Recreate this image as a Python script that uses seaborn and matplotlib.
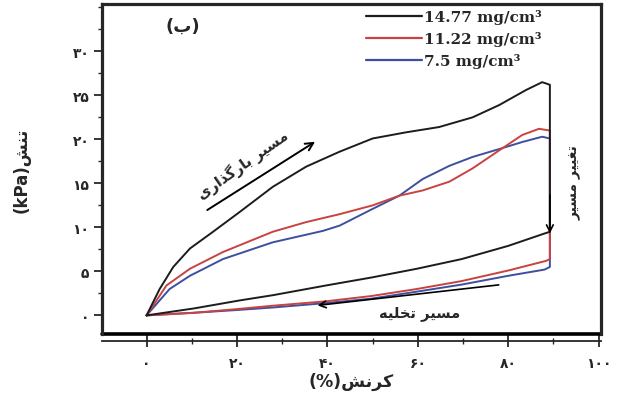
import numpy as np
import pandas as pd
import matplotlib
matplotlib.use("Agg")
import matplotlib.pyplot as plt
import seaborn as sns
from matplotlib.ticker import MultipleLocator
from matplotlib.lines import Line2D

# Series: loading path, vertical drop at max strain, unloading path
densities = ["14.77 mg/cm³", "11.22 mg/cm³", "7.5 mg/cm³"]
colors = ["#1c1c1c", "#c94242", "#3e4f9e"]

black_x = [0, 2.9, 5.9, 9.6, 14.7, 20.6, 27.9, 35.3, 42.7, 50.0, 57.4, 64.7, 72.1, 78.0, 83.9, 87.5, 89.2,
           89.2, 88.0, 80.0, 69.7, 59.8, 49.7, 39.7, 28.0, 20.6, 10.6, 0]
black_y = [0, 3.0, 5.5, 7.6, 9.5, 11.75, 14.6, 16.9, 18.6, 20.1, 20.8, 21.4, 22.5, 23.9, 25.6, 26.5, 26.2,
           9.5, 9.3, 7.9, 6.4, 5.3, 4.3, 3.4, 2.3, 1.7, 0.8, 0]

red_x = [0, 4.4, 9.6, 16.9, 27.9, 35.3, 42.7, 50.0, 55.9, 61.1, 67.0, 72.1, 78.0, 83.1, 86.8, 89.2,
         89.2, 88.4, 80.0, 69.7, 59.8, 49.7, 39.7, 28.0, 19.7, 10.6, 0]
red_y = [0, 3.4, 5.3, 7.2, 9.5, 10.6, 11.5, 12.5, 13.6, 14.2, 15.2, 16.7, 18.75, 20.5, 21.2, 21.0,
         6.4, 6.2, 5.1, 3.9, 3.0, 2.2, 1.6, 1.1, 0.7, 0.3, 0]

blue_x = [0, 5.1, 9.6, 16.9, 27.9, 39.0, 42.7, 50.0, 55.9, 61.1, 67.0, 72.1, 78.0, 83.1, 87.5, 89.2,
          89.2, 88.0, 80.0, 69.7, 59.8, 49.7, 39.7, 28.0, 19.7, 10.6, 0]
blue_y = [0, 3.0, 4.5, 6.4, 8.3, 9.6, 10.2, 12.1, 13.6, 15.5, 17.0, 18.0, 18.9, 19.7, 20.3, 20.1,
          5.5, 5.2, 4.5, 3.5, 2.7, 1.9, 1.4, 0.9, 0.6, 0.3, 0]

x_ticks = [0, 20, 40, 60, 80, 100]
x_labels = ["۰", "۲۰", "۴۰", "۶۰", "۸۰", "۱۰۰"]
y_ticks = [0, 5, 10, 15, 20, 25, 30]
y_labels = ["۰", "۵", "۱۰", "۱۵", "۲۰", "۲۵", "۳۰"]

# matplotlib has no Arabic shaping: pick presentation forms and reverse to visual order
FORMS = {
    "ا": "\uFE8D\uFE8E", "ب": "\uFE8F\uFE90\uFE91\uFE92", "ت": "\uFE95\uFE96\uFE97\uFE98",
    "خ": "\uFEA5\uFEA6\uFEA7\uFEA8", "ذ": "\uFEAB\uFEAC", "ر": "\uFEAD\uFEAE",
    "س": "\uFEB1\uFEB2\uFEB3\uFEB4", "ش": "\uFEB5\uFEB6\uFEB7\uFEB8", "غ": "\uFECD\uFECE\uFECF\uFED0",
    "\u06A9": "\uFB8E\uFB8F\uFB90\uFB91", "\u0643": "\uFB8E\uFB8F\uFB90\uFB91",
    "گ": "\uFB92\uFB93\uFB94\uFB95", "ل": "\uFEDD\uFEDE\uFEDF\uFEE0", "م": "\uFEE1\uFEE2\uFEE3\uFEE4",
    "ن": "\uFEE5\uFEE6\uFEE7\uFEE8", "ه": "\uFEE9\uFEEA\uFEEB\uFEEC",
    "\u06CC": "\uFBFC\uFBFD\uFBFE\uFBFF", "\u064A": "\uFBFC\uFBFD\uFBFE\uFBFF",
}


def fa(text):
    out = []
    for i, ch in enumerate(text):
        f = FORMS.get(ch)
        if f is None:
            out.append(ch)
            continue
        prev = FORMS.get(text[i - 1]) if i > 0 else None
        nxt = FORMS.get(text[i + 1]) if i + 1 < len(text) else None
        jp = prev is not None and len(prev) == 4
        jn = nxt is not None and len(f) == 4
        if jp and jn:
            out.append(f[3])
        elif jp:
            out.append(f[1])
        elif jn:
            out.append(f[2])
        else:
            out.append(f[0])
    return "".join(reversed(out))


frames = []
for name, xs, ys in zip(densities, [black_x, red_x, blue_x], [black_y, red_y, blue_y]):
    frames.append(pd.DataFrame({"strain": xs, "stress": ys, "density": name}))
df = pd.concat(frames, ignore_index=True)

sns.set_style("ticks")
plt.rcParams["font.family"] = ["DejaVu Sans"]

fig = plt.figure(figsize=(6.17, 4.02), dpi=100)
ax = fig.add_axes([0.165, 0.167, 0.809, 0.821])

sns.lineplot(data=df, x="strain", y="stress", hue="density", hue_order=densities[::-1],
             palette=dict(zip(densities, colors)), sort=False, estimator=None,
             units="density", linewidth=1.4, legend=False, ax=ax)

ax.set_xlim(-9.9, 100.5)
ax.set_ylim(-2.1, 35.4)

# box frame plus a separate x axis line just below it
for s in ["left", "right", "top"]:
    ax.spines[s].set_linewidth(2.3)
ax.spines["bottom"].set_position(("outward", 5))
ax.spines["bottom"].set_linewidth(1.3)
ax.plot([0, 1], [0, 0], transform=ax.transAxes, color="k", lw=2.6, clip_on=False)

ax.set_xticks(x_ticks)
ax.set_xticklabels(x_labels, fontsize=10, fontweight="bold")
ax.set_yticks(y_ticks)
ax.set_yticklabels(y_labels, fontsize=10, fontweight="bold")
ax.xaxis.set_minor_locator(MultipleLocator(10))
ax.yaxis.set_minor_locator(MultipleLocator(2.5))
ax.tick_params(axis="x", which="major", direction="inout", length=8, width=1.3, pad=7)
ax.tick_params(axis="x", which="minor", direction="inout", length=4, width=1.0)
ax.tick_params(axis="y", which="major", direction="out", length=6, width=1.3, pad=3)
ax.tick_params(axis="y", which="minor", direction="out", length=3, width=1.0)

ax.set_xlabel("(%)" + fa("کرنش"), fontsize=12.5, fontweight="bold", labelpad=1)
ax.set_ylabel("(kPa)" + fa("تنش"), fontsize=12, fontweight="bold", labelpad=30)

# annotations
ax.text(8.0, 32.9, "(ب)", fontsize=13, fontweight="bold", ha="center", va="center")
ax.annotate("", xy=(37.8, 19.9), xytext=(12.9, 11.8),
            arrowprops=dict(arrowstyle="->", color="k", lw=1.4, mutation_scale=14))
ax.text(21.4, 17.2, fa("مسیر بارگذاری"), rotation=35, fontsize=10.5, fontweight="bold",
        ha="center", va="center", rotation_mode="anchor")
ax.annotate("", xy=(37.2, 1.1), xytext=(78.5, 3.5),
            arrowprops=dict(arrowstyle="->", color="k", lw=1.2, mutation_scale=12))
ax.text(60.3, 0.3, fa("مسیر تخلیه"), fontsize=10.5, fontweight="bold", ha="center", va="center")
ax.annotate("", xy=(89.2, 9.0), xytext=(89.2, 14.0),
            arrowprops=dict(arrowstyle="->", color="k", lw=1.2, mutation_scale=12))
ax.text(94.6, 15.2, fa("تغییر مسیر"), rotation=90, fontsize=10, fontweight="bold",
        ha="center", va="center")

handles = [Line2D([], [], color=c, lw=1.6) for c in colors]
fig.legend(handles, densities, loc="upper left", bbox_to_anchor=(0.593, 0.974),
           bbox_transform=fig.transFigure, frameon=False, handlelength=3.65, handletextpad=0.15,
           labelspacing=0.45, borderpad=0, borderaxespad=0,
           prop={"family": "DejaVu Serif", "weight": "bold", "size": 11})

fig.savefig("out.png", dpi=100)
